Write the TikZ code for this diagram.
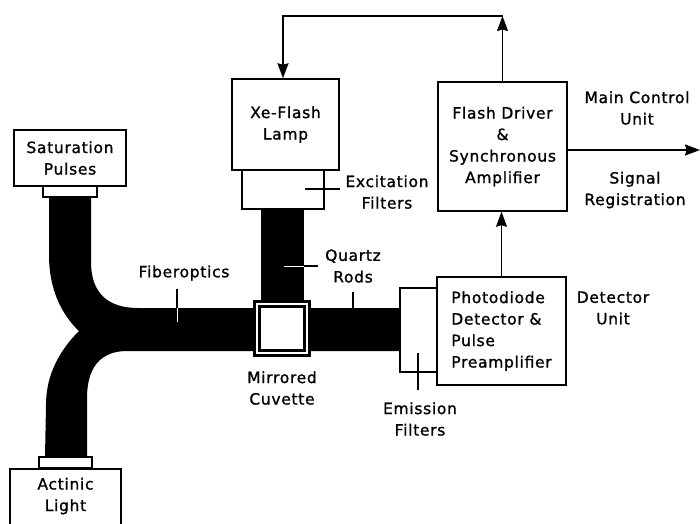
\documentclass[tikz,border=0pt]{standalone}
\usepackage{fontspec}
\newfontfamily\lblfont[LetterSpace=4.5,FakeBold=1.2]{DejaVu Sans}
\usetikzlibrary{arrows.meta}
\begin{document}
\begin{tikzpicture}[x=1pt,y=-1pt,
  lbl/.style={font=\lblfont\fontsize{15.5pt}{21.5pt}\selectfont, align=center, inner sep=0pt},
  box/.style={lbl, draw, line width=1.5pt, fill=white},
  arr/.style={line width=1.5pt, -{Stealth[length=15pt,width=11pt,inset=1.5pt]}},
  tick/.style={line width=1.5pt},
  wtick/.style={white, line width=1pt},
  fiber/.style={fill=black}]
\clip (0,0) rectangle (700,523);
\fill[white] (0,0) rectangle (700,523);
% fiberoptics
\fill[fiber] (49,197) -- (49,255) .. controls (49,290) and (62,315) .. (79,331)
  .. controls (62,348) and (46,372) .. (46,405) -- (45,457) -- (87,457) -- (87,398)
  .. controls (87,368) and (100,351) .. (127,351) -- (400,351) -- (400,308)
  -- (138,308) .. controls (110,308) and (91,295) .. (91,262) -- (91,197) -- cycle;
% quartz rod
\fill[fiber] (261,205) rectangle (304,310);
% boxes
\node[box, minimum width=112, minimum height=56] (sat) at (70,158) {Saturation\\Pulses};
\node[box, minimum width=54, minimum height=11] (satc) at (70,191.5) {};
\node[box, minimum width=53, minimum height=11] (actc) at (65.5,462.5) {};
\node[box, minimum width=111, minimum height=80, anchor=north] (act) at (65.5,468) {};
\node[lbl] (actt) at (65.5,496) {Actinic\\Light};
\node[box, minimum width=82, minimum height=39] (exf) at (283,189.5) {};
\node[box, minimum width=107, minimum height=91] (lamp) at (285.5,124.5) {Xe-Flash\\Lamp};
\node[draw, double=white, line width=2.8pt, double distance=2.3pt, fill=white,
  minimum width=50, minimum height=49, inner sep=0pt] (cuv) at (282,328.5) {};
\node[box, minimum width=129, minimum height=129] (drv) at (502.5,146.5)
  {Flash Driver\\\&\\Synchronous\\Amplifier};
\node[box, minimum width=129, minimum height=108, align=left] (pd) at (501.5,331)
  {Photodiode\\Detector \&\\Pulse\\Preamplifier};
\draw[line width=1.5pt] (pd.west |- 0,288) -- (400,288) -- (400,372) -- (pd.west |- 0,372);
% labels
\node[lbl] (exl) at (387,192) {Excitation\\Filters};
\node[lbl] (mcu) at (637,108) {Main Control\\Unit};
\node[lbl] (sig) at (635,190) {Signal\\Registration};
\node[lbl] (det) at (613,308) {Detector\\Unit};
\node[lbl] (eml) at (420,419) {Emission\\Filters};
\node[lbl] (qr) at (353,266) {Quartz\\Rods};
\node[lbl] (fo) at (184,273) {Fiberoptics};
\node[lbl] (cuvl) at (282,388) {Mirrored\\Cuvette};
% ticks
\draw[tick] (177,289) -- (177,308);
\draw[wtick] (177,308) -- (177,322);
\draw[tick] (304,266) -- (318,266);
\draw[wtick] (284,266) -- (304,266);
\draw[tick] (353,292) -- (353,308);
\draw[tick] (305,189) -- (340,189);
\draw[tick] (418,353) -- (418,390);
% arrows
\coordinate (fb1) at (502.5,16);
\coordinate (fb2) at (283,16);
\coordinate (out) at (700,150);
\draw[arr] (drv.north) -- (fb1);
\draw[arr] (fb1) -- (fb2) -- (fb2 |- lamp.north);
\draw[arr] (drv.east |- out) -- (out);
\draw[arr] (pd.north) -- (pd.north |- drv.south);
\end{tikzpicture}
\end{document}
